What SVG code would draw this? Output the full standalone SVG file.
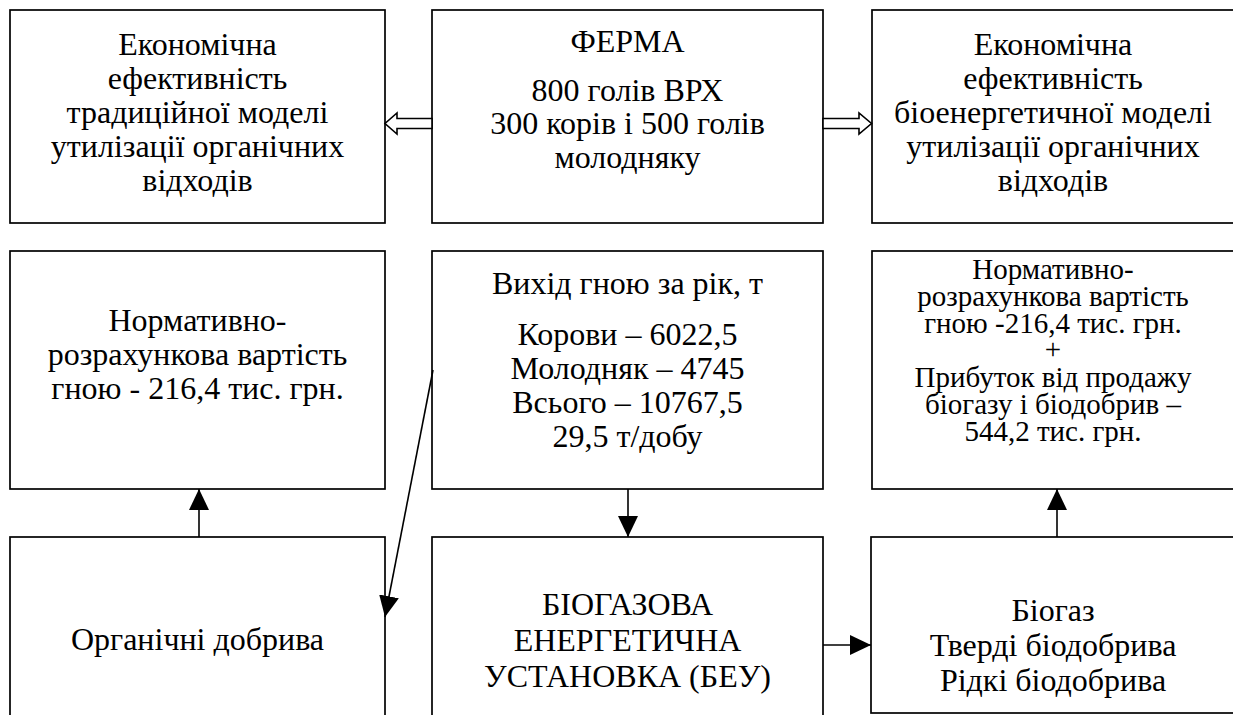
<svg xmlns="http://www.w3.org/2000/svg" width="1233" height="715" viewBox="0 0 1233 715">
<style>
.nodebox{fill:#fff;stroke:#000;stroke-width:1.7}
.lblmain{font-family:'Liberation Serif',serif;font-size:32px;fill:#000;text-anchor:middle}
.lblsmall{font-family:'Liberation Serif',serif;font-size:29px;fill:#000;text-anchor:middle}
.conn{stroke:#000;stroke-width:1.6;fill:none}
.hollowarrow{fill:#fff;stroke:#000;stroke-width:1.6;stroke-linejoin:miter}
</style>
<defs>
<marker id="ah" markerUnits="userSpaceOnUse" markerWidth="22" markerHeight="20" refX="21" refY="10" orient="auto" viewBox="0 0 22 20">
<path d="M0,0 L21,10 L0,20 z" fill="#000"/>
</marker>
</defs>
<rect width="1233" height="715" fill="#fff"/>
<g id="n-trad">
<rect class="nodebox" x="10" y="10" width="375" height="213"/>
<text class="lblmain" x="197.5" y="55">Економічна</text>
<text class="lblmain" x="197.5" y="89">ефективність</text>
<text class="lblmain" x="197.5" y="123">традиційної моделі</text>
<text class="lblmain" x="197.5" y="157">утилізації органічних</text>
<text class="lblmain" x="197.5" y="191">відходів</text>
</g>
<g id="n-ferma">
<rect class="nodebox" x="432" y="10" width="391" height="213"/>
<text class="lblmain" x="627.5" y="52">ФЕРМА</text>
<text class="lblmain" x="627.5" y="101">800 голів ВРХ</text>
<text class="lblmain" x="627.5" y="134">300 корів і 500 голів</text>
<text class="lblmain" x="627.5" y="168">молодняку</text>
</g>
<g id="n-bio">
<rect class="nodebox" x="872" y="10" width="364" height="213"/>
<text class="lblmain" x="1053" y="55">Економічна</text>
<text class="lblmain" x="1053" y="89">ефективність</text>
<text class="lblmain" x="1053" y="123">біоенергетичної моделі</text>
<text class="lblmain" x="1053" y="157">утилізації органічних</text>
<text class="lblmain" x="1053" y="191">відходів</text>
</g>
<g id="n-norm1">
<rect class="nodebox" x="10" y="251" width="375" height="238"/>
<text class="lblmain" x="197.5" y="331">Нормативно-</text>
<text class="lblmain" x="197.5" y="365">розрахункова вартість</text>
<text class="lblmain" x="197.5" y="399">гною - 216,4 тис. грн.</text>
</g>
<g id="n-gnij">
<rect class="nodebox" x="432" y="251" width="391" height="238"/>
<text class="lblmain" x="627.5" y="294">Вихід гною за рік, т</text>
<text class="lblmain" x="627.5" y="345">Корови – 6022,5</text>
<text class="lblmain" x="627.5" y="379">Молодняк – 4745</text>
<text class="lblmain" x="627.5" y="413">Всього – 10767,5</text>
<text class="lblmain" x="627.5" y="447">29,5 т/добу</text>
</g>
<g id="n-norm2">
<rect class="nodebox" x="872" y="251" width="364" height="238"/>
<text class="lblsmall" x="1053" y="279">Нормативно-</text>
<text class="lblsmall" x="1053" y="306">розрахункова вартість</text>
<text class="lblsmall" x="1053" y="333">гною -216,4 тис. грн.</text>
<text class="lblsmall" x="1053" y="359">+</text>
<text class="lblsmall" x="1053" y="387">Прибуток від продажу</text>
<text class="lblsmall" x="1053" y="414">біогазу і біодобрив –</text>
<text class="lblsmall" x="1053" y="441">544,2 тис. грн.</text>
</g>
<g id="n-org">
<rect class="nodebox" x="10" y="537" width="375" height="190"/>
<text class="lblmain" x="197.5" y="650">Органічні добрива</text>
</g>
<g id="n-beu">
<rect class="nodebox" x="432" y="537" width="391" height="190"/>
<text class="lblmain" x="627.5" y="615">БІОГАЗОВА</text>
<text class="lblmain" x="627.5" y="651">ЕНЕРГЕТИЧНА</text>
<text class="lblmain" x="627.5" y="687">УСТАНОВКА (БЕУ)</text>
</g>
<g id="n-prod">
<rect class="nodebox" x="871" y="537" width="365" height="176"/>
<text class="lblmain" x="1053" y="621">Біогаз</text>
<text class="lblmain" x="1053" y="656">Тверді біодобрива</text>
<text class="lblmain" x="1053" y="691">Рідкі біодобрива</text>
</g>
<g id="connectors">
<polygon class="hollowarrow" points="432,118.5 397,118.5 397,113 385,123.5 397,134 397,128.5 432,128.5"/>
<polygon class="hollowarrow" points="823,118.5 859,118.5 859,113 871.5,123.5 859,134 859,128.5 823,128.5"/>
<line class="conn" x1="628" y1="489" x2="628" y2="537" marker-end="url(#ah)"/>
<line class="conn" x1="199" y1="537" x2="199" y2="489" marker-end="url(#ah)"/>
<line class="conn" x1="1057" y1="537" x2="1057" y2="489" marker-end="url(#ah)"/>
<line class="conn" x1="823" y1="645" x2="871" y2="645" marker-end="url(#ah)"/>
<line class="conn" x1="433" y1="370" x2="385" y2="617" marker-end="url(#ah)"/>
</g>
</svg>
